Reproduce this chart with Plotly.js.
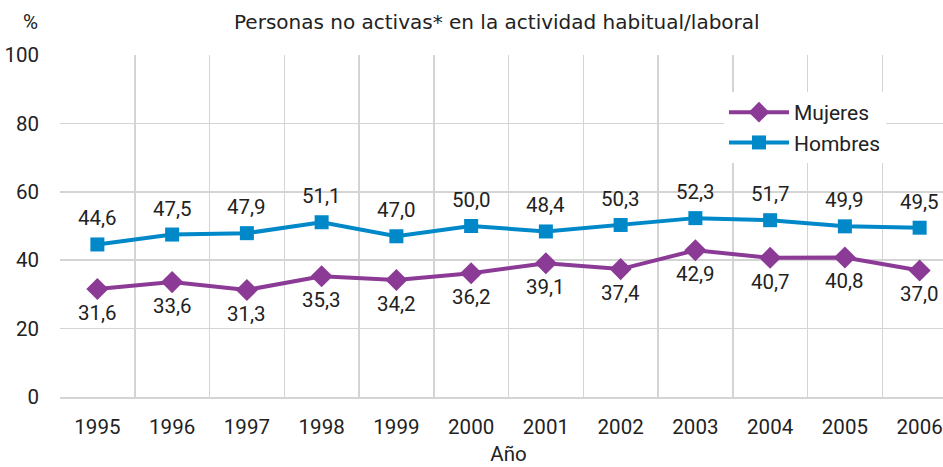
<!DOCTYPE html>
<html><head><meta charset="utf-8">
<script src="https://cdn.plot.ly/plotly-3.0.1.min.js"></script>
<style>html,body{margin:0;padding:0;overflow:hidden;background:#fff}#chart{width:957px;height:467px}</style>
</head><body><div id="chart"></div>
<script>
const years = ['1995','1996','1997','1998','1999','2000','2001','2002','2003','2004','2005','2006'];
const mujeres = [31.6, 33.6, 31.3, 35.3, 34.2, 36.2, 39.1, 37.4, 42.9, 40.7, 40.8, 37.0];
const hombres = [44.6, 47.5, 47.9, 51.1, 47.0, 50.0, 48.4, 50.3, 52.3, 51.7, 49.9, 49.5];
const fmt = v => v.toFixed(1).replace('.', ',');
const FAM = 'Roboto, Liberation Sans, Arial, sans-serif';
const font = {family: FAM, size: 20.5, color: '#222'};
const traces = [
  {x: years, y: mujeres, name: 'Mujeres', type: 'scatter', mode: 'lines+markers',
   line: {color: '#8B3A96', width: 4}, marker: {symbol: 'diamond', size: 17, color: '#8B3A96'},
   cliponaxis: false},
  {x: years, y: hombres, name: 'Hombres', type: 'scatter', mode: 'lines+markers',
   line: {color: '#0088C9', width: 4}, marker: {symbol: 'square', size: 14, color: '#0088C9'},
   cliponaxis: false}
];
const labelAnn = [];
years.forEach((yr, i) => {
  labelAnn.push({x: i, y: hombres[i], xref: 'x', yref: 'y', text: fmt(hombres[i]), showarrow: false,
    yshift: 26, xanchor: 'center', yanchor: 'middle', font: font});
  labelAnn.push({x: i, y: mujeres[i], xref: 'x', yref: 'y', text: fmt(mujeres[i]), showarrow: false,
    yshift: -24, xanchor: 'center', yanchor: 'middle', font: font});
});
const layout = {
  width: 957, height: 467,
  margin: {l: 60, r: 0, t: 55, b: 70},
  paper_bgcolor: '#fff', plot_bgcolor: '#fff',
  font: font,
  showlegend: true,
  legend: {x: (724-60)/897, y: 1-(92-55)/342, xanchor: 'left', yanchor: 'top', bgcolor: '#fff',
           font: {family: FAM, size: 21, color: '#222'},
           itemwidth: 60, tracegroupgap: 0},
  xaxis: {type: 'category', range: [-0.5, 11.5], autorange: false, showgrid: true, gridcolor: '#d4d4d4', gridwidth: 1.5,
          showline: true, linecolor: '#d4d4d4', linewidth: 1.5, ticks: '',
          ticklabelstandoff: 11, tickson: 'boundaries', automargin: false,
          title: {text: 'Año', font: font, standoff: 8}},
  yaxis: {range: [0, 100], autorange: false, dtick: 20, showgrid: true, gridcolor: '#d4d4d4', gridwidth: 1.5,
          zeroline: false, showline: false, ticks: '', ticklabelstandoff: 20, automargin: false},
  annotations: labelAnn.concat([
    {text: 'Personas no activas* en la actividad habitual/laboral', xref: 'paper', yref: 'paper',
     x: (497-60)/897, y: 1, yshift: 33, showarrow: false, xanchor: 'center', yanchor: 'middle',
     font: {family: 'DejaVu Sans, sans-serif', size: 20, color: '#222'}},
    {text: '%', xref: 'paper', yref: 'paper', x: (30-60)/897, y: 1, yshift: 33, showarrow: false,
     xanchor: 'center', yanchor: 'middle', font: font}
  ])
};
Plotly.newPlot('chart', traces, layout, {displayModeBar: false, staticPlot: true});
</script></body></html>
